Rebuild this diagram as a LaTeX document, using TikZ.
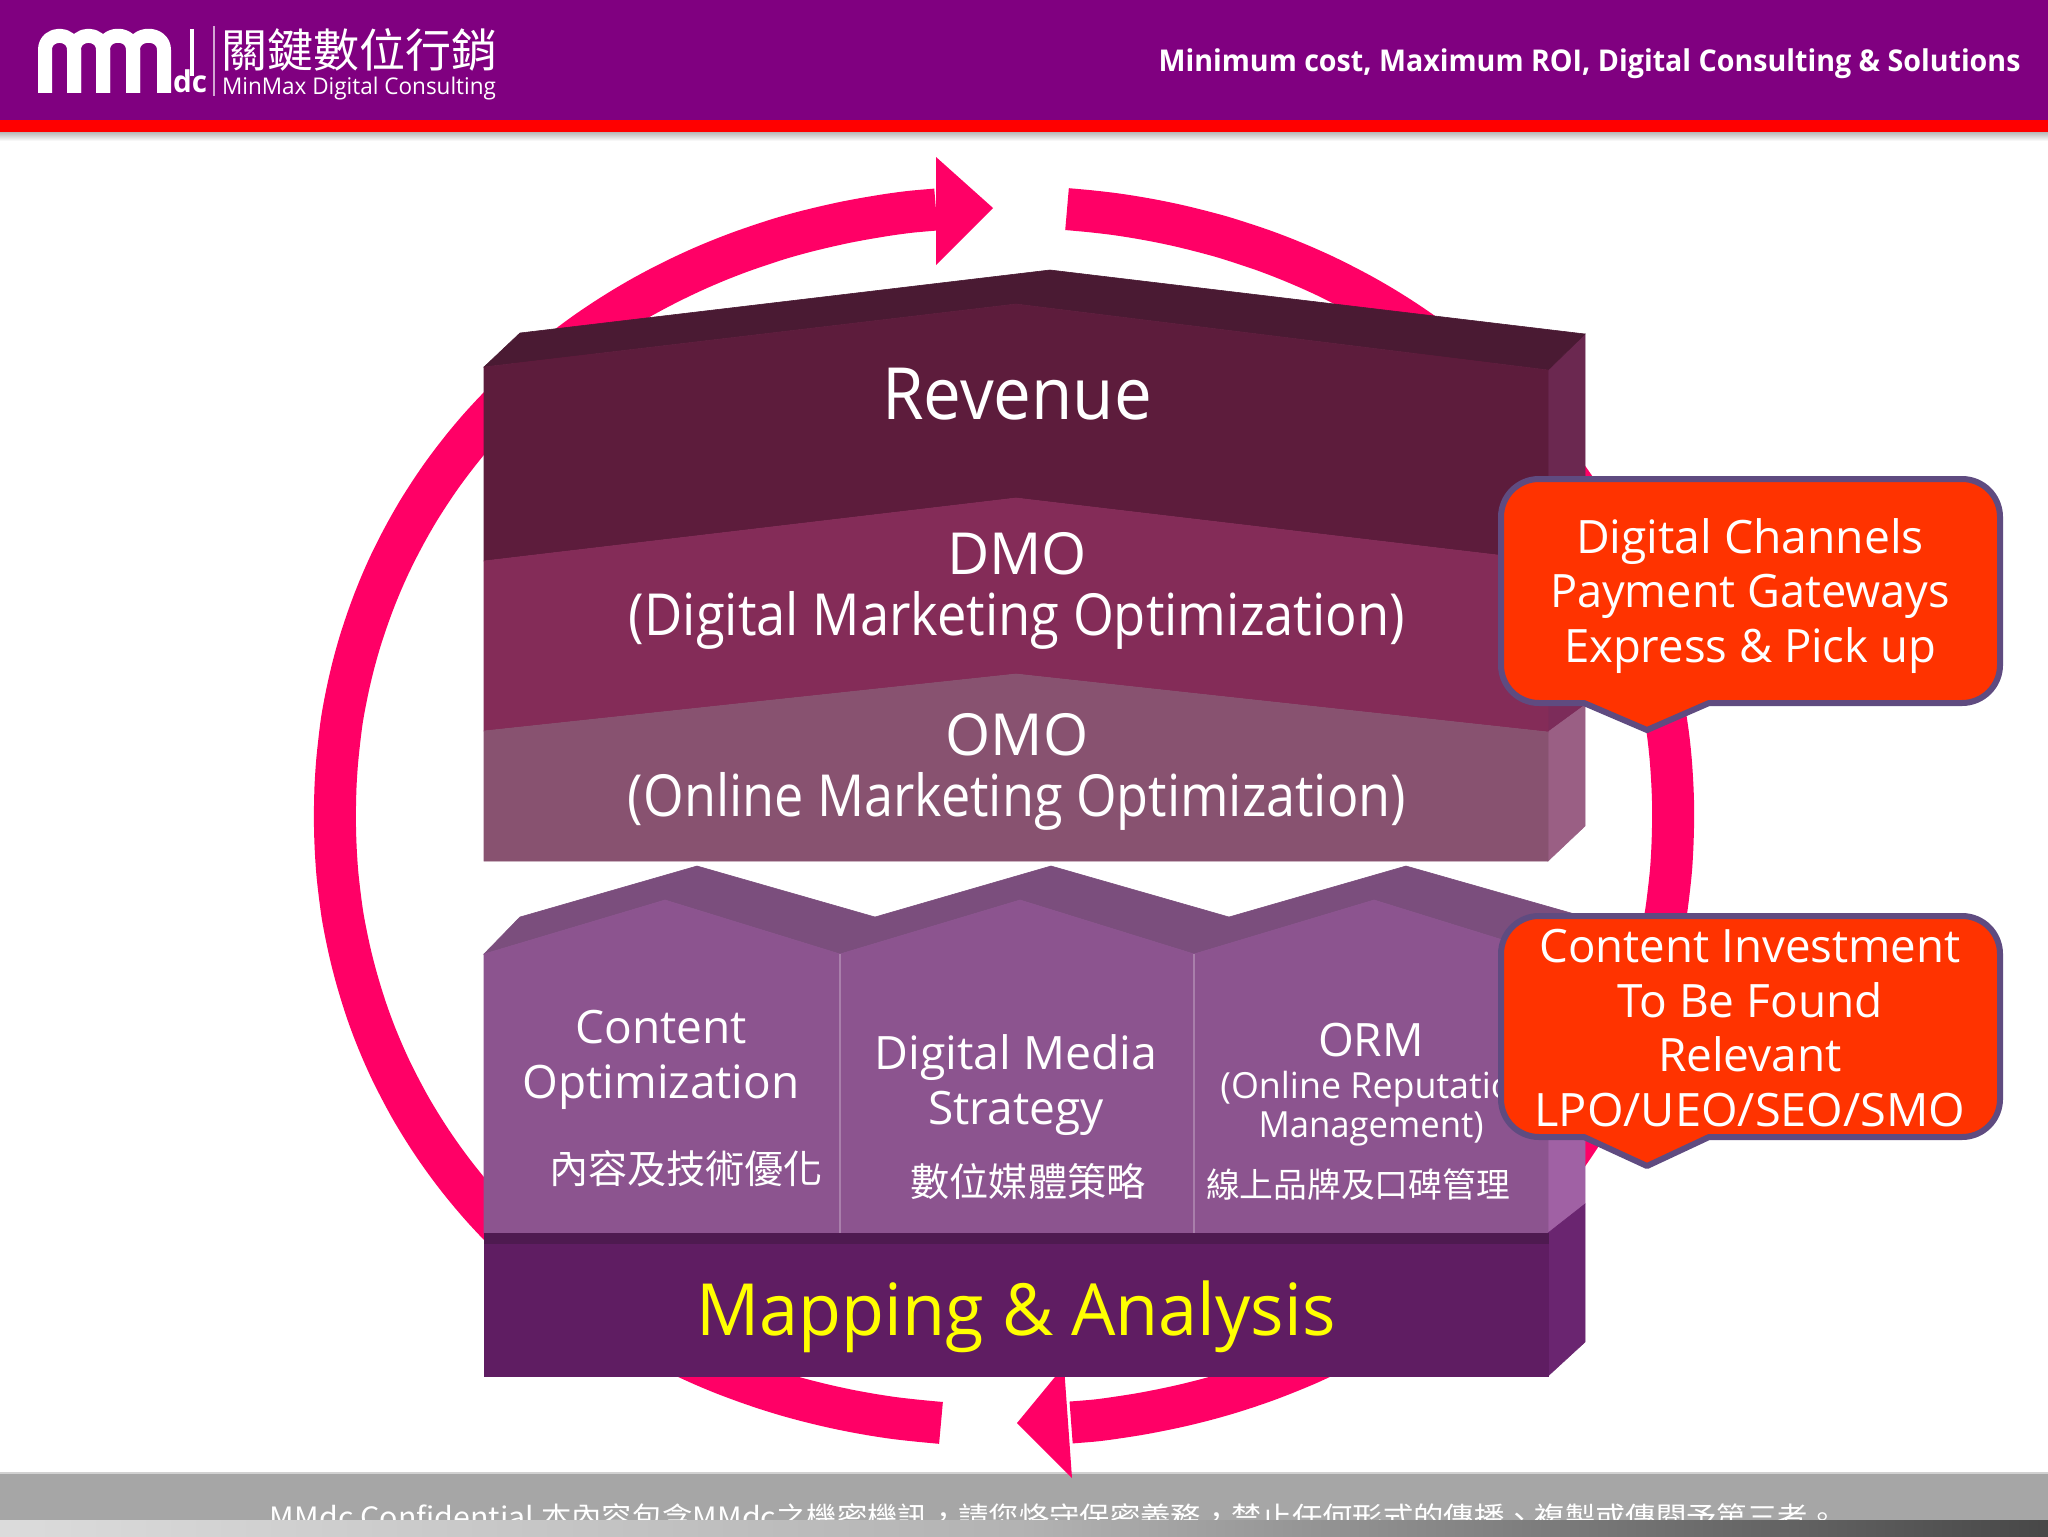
\documentclass[tikz,border=0pt]{standalone}
\usepackage{graphicx}
\usepackage{fontspec}
\setmainfont{Open Sans}
\newfontfamily\cjk{Noto Sans CJK TC}
\definecolor{hdrpurple}{HTML}{800080}
\definecolor{ringpink}{HTML}{FF0066}
\definecolor{revfront}{HTML}{5D1C3C}
\definecolor{revtop}{HTML}{4A1A33}
\definecolor{revside}{HTML}{6B2850}
\definecolor{dmofront}{HTML}{842C58}
\definecolor{dmoside}{HTML}{7C2C5A}
\definecolor{omofront}{HTML}{885270}
\definecolor{omoside}{HTML}{9A5F84}
\definecolor{housefront}{HTML}{8C548F}
\definecolor{housetop}{HTML}{7B4E7D}
\definecolor{houseside}{HTML}{A061A4}
\definecolor{mapfront}{HTML}{5F1D62}
\definecolor{maptop}{HTML}{4E1A50}
\definecolor{mapside}{HTML}{6A2570}
\definecolor{calloutfill}{HTML}{FF3300}
\definecolor{calloutline}{HTML}{5F4B80}
\definecolor{mapyellow}{HTML}{FFFF00}
\newcommand\fw[2]{\resizebox{#1pt}{\height}{#2}}
\tikzset{
  x=0.5pt,y=-0.5pt,
  ringarc/.style={draw=ringpink,line width=21pt,line cap=butt},
  ringhead/.style={fill=ringpink},
  facet/.style={fill=#1,draw=#1,line width=0.3pt},
  logoarch/.style={draw=white,line width=7pt,line join=round},
  callout/.style={fill=calloutfill,draw=calloutline,line width=3pt,line join=round},
  txt/.style={text=white,inner sep=0pt,align=center},
  big/.style={txt,font=\fontsize{36}{40}\selectfont},
  mid/.style={txt,font=\fontsize{29}{30.5}\selectfont},
  small/.style={txt,font=\fontsize{23}{27.2}\selectfont},
  smaller/.style={txt,font=\fontsize{18}{20}\selectfont},
  zh/.style={txt,font=\cjk\fontsize{19.5}{22}\selectfont},
}
\begin{document}
\begin{tikzpicture}
\useasboundingbox (0,0) rectangle (2048,1536);
\fill[white] (0,0) rectangle (2048,1536);
% footer
\fill[black!18!white] (0,1472) rectangle (2048,1520);
\fill[white!65!black] (0,1474) rectangle (2048,1520);
\node[txt,anchor=center,font=\cjk\fontsize{14}{16}\selectfont] (conf) at (1054,1517)
  {\fw{784}{MMdc Confidential 本內容包含MMdc之機密機訊，請您恪守保密義務，禁止任何形式的傳播、複製或傳閱予第三者。}};
\shade[left color=black!14!white,right color=black!72!white,middle color=black!30!white] (0,1520) rectangle (2048,1536);
% header
\fill[hdrpurple] (0,0) rectangle (2048,120);
\fill[red] (0,120) rectangle (2048,132);
\shade[top color=black!28!white,middle color=black!22!white,bottom color=white] (0,132) rectangle (2048,141);
\draw[logoarch] (45,93) -- (45,50) .. controls (45,31) and (74,31) .. (74,50) -- (74,93);
\draw[logoarch] (74,93) -- (74,50) .. controls (74,31) and (103,31) .. (103,50) -- (103,93);
\draw[logoarch] (103,93) -- (103,50) .. controls (103,31) and (133,31) .. (133,50) -- (133,93);
\draw[logoarch] (133,93) -- (133,50) .. controls (133,31) and (164,31) .. (164,50) -- (164,93);
\draw[white,line width=2pt] (192,29) -- (192,76);
\node[txt,font=\fontsize{15}{16}\selectfont\bfseries] (logodc) at (190,81) {\fw{17}{dc}};
\draw[white!65!hdrpurple,line width=1pt] (214,26) -- (214,96);
\node[txt,font=\cjk\fontsize{23}{25}\selectfont] (logozh) at (359,50) {\fw{138}{關鍵數位行銷}};
\node[txt,font=\fontsize{11.5}{13}\selectfont] (logoen) at (359,89) {\fw{137}{MinMax Digital Consulting}};
\node[txt,anchor=east,font=\fontsize{15}{17}\selectfont\bfseries] (slogan) at (2021,64)
  {\fw{431}{Minimum cost, Maximum ROI, Digital Consulting \& Solutions}};
% ring
\draw[ringarc] plot[domain=-85:84.66,samples=90,smooth] ({1004+669*sign(cos(\x))*(abs(cos(\x))+0.0001)^0.97},{816+609*sign(sin(\x))*(abs(sin(\x))+0.0001)^0.97});
\draw[ringarc] plot[domain=95:264.58,samples=90,smooth] ({1004+669*sign(cos(\x))*(abs(cos(\x))+0.0001)^0.97},{816+609*sign(sin(\x))*(abs(sin(\x))+0.0001)^0.97});
\fill[ringhead] (936,157) -- (993,208) -- (936,265) -- cycle;
\fill[ringhead] (1064,1366) -- (1017,1423) -- (1072,1478) -- cycle;
% revenue block
\path[facet=revside] (1548,370) -- (1585,334) -- (1585,530) -- (1548,561) -- cycle;
\path[facet=dmoside] (1548,561) -- (1585,530) -- (1585,705) -- (1548,732) -- cycle;
\path[facet=omoside] (1548,732) -- (1585,705) -- (1585,826) -- (1548,861) -- cycle;
\path[facet=revtop] (484,367) -- (520,333) -- (1050,270) -- (1585,334) -- (1548,370) -- (1016,304) -- cycle;
\path[facet=revfront] (484,367) -- (1016,304) -- (1548,370) -- (1548,561) -- (1016,498) -- (484,561) -- cycle;
\path[facet=dmofront] (484,561) -- (1016,498) -- (1548,561) -- (1548,732) -- (1016,674) -- (484,731) -- cycle;
\path[facet=omofront] (484,731) -- (1016,674) -- (1548,732) -- (1548,861) -- (484,861) -- cycle;
% houses
\path[facet=houseside] (1548,954) -- (1585,917) -- (1585,1204) -- (1548,1233) -- cycle;
\path[facet=housetop] (484,954) -- (520,917) -- (697,866) -- (875,917) -- (1051,866) -- (1229,917) -- (1406,866) -- (1585,917) -- (1548,954) -- (1374,900) -- (1194,954) -- (1020,900) -- (840,954) -- (665,900) -- cycle;
\path[facet=housefront] (484,954) -- (665,900) -- (840,954) -- (1020,900) -- (1194,954) -- (1374,900) -- (1548,954) -- (1548,1233) -- (484,1233) -- cycle;
\draw[white!25!housefront,line width=1pt] (840,954) -- (840,1233);
\draw[white!25!housefront,line width=1pt] (1194,954) -- (1194,1233);
% mapping block
\path[facet=mapside] (1548,1233) -- (1585,1204) -- (1585,1342) -- (1548,1376) -- cycle;
\path[facet=mapfront] (484,1243) rectangle (1548,1376);
\path[facet=maptop] (484,1233) -- (1548,1233) -- (1548,1243) -- (484,1243) -- cycle;
% block texts
\node[big] (revenue) at (1017,394) {\fw{135}{Revenue}};
\node[mid] (dmo) at (1017,591) {DMO\\\fw{388}{(Digital Marketing Optimization)}};
\node[mid] (omo) at (1017,772) {OMO\\\fw{389}{(Online Marketing Optimization)}};
\node[small] (content) at (661,1060) {Content\\\fw{138.5}{Optimization}};
\node[zh] (contentzh) at (686,1169) {\fw{137}{內容及技術優化}};
\node[small] (media) at (1016,1085) {\fw{141.5}{Digital Media}\\Strategy};
\node[zh] (mediazh) at (1028,1182) {\fw{117.5}{數位媒體策略}};
\node[small] (orm) at (1371,1040) {ORM};
\node[smaller,anchor=west] (ormlong) at (1220,1089) {\fw{157}{(Online Reputation}};
\node[smaller] (ormmgmt) at (1371,1129) {\fw{112.5}{Management)}};
\node[zh,font=\cjk\fontsize{17}{19}\selectfont] (ormzh) at (1358,1185) {\fw{152}{線上品牌及口碑管理}};
\node[big,text=mapyellow] (mapping) at (1016,1317) {\fw{319.5}{Mapping \& Analysis}};
% callouts
\draw[callout] (1539,479) -- (1962,479) arc[start angle=-90,end angle=0,radius=38] -- (2000,665)
  arc[start angle=0,end angle=90,radius=38] -- (1709,703) -- (1647,730) -- (1584,703) -- (1539,703)
  arc[start angle=90,end angle=180,radius=38] -- (1501,517) arc[start angle=180,end angle=270,radius=38] -- cycle;
\draw[callout] (1539,916) -- (1962,916) arc[start angle=-90,end angle=0,radius=38] -- (2000,1099)
  arc[start angle=0,end angle=90,radius=38] -- (1709,1137) -- (1647,1166) -- (1584,1137) -- (1539,1137)
  arc[start angle=90,end angle=180,radius=38] -- (1501,954) arc[start angle=180,end angle=270,radius=38] -- cycle;
\node[small] (c1) at (1750,596) {\fw{174}{Digital Channels}\\\fw{200}{Payment Gateways}\\\fw{186}{Express \& Pick up}};
\node[small] (c2) at (1750,1028) {\fw{210.5}{Content Investment}\\To Be Found\\Relevant\\\fw{215.5}{LPO/UEO/SEO/SMO}};
\end{tikzpicture}
\end{document}
